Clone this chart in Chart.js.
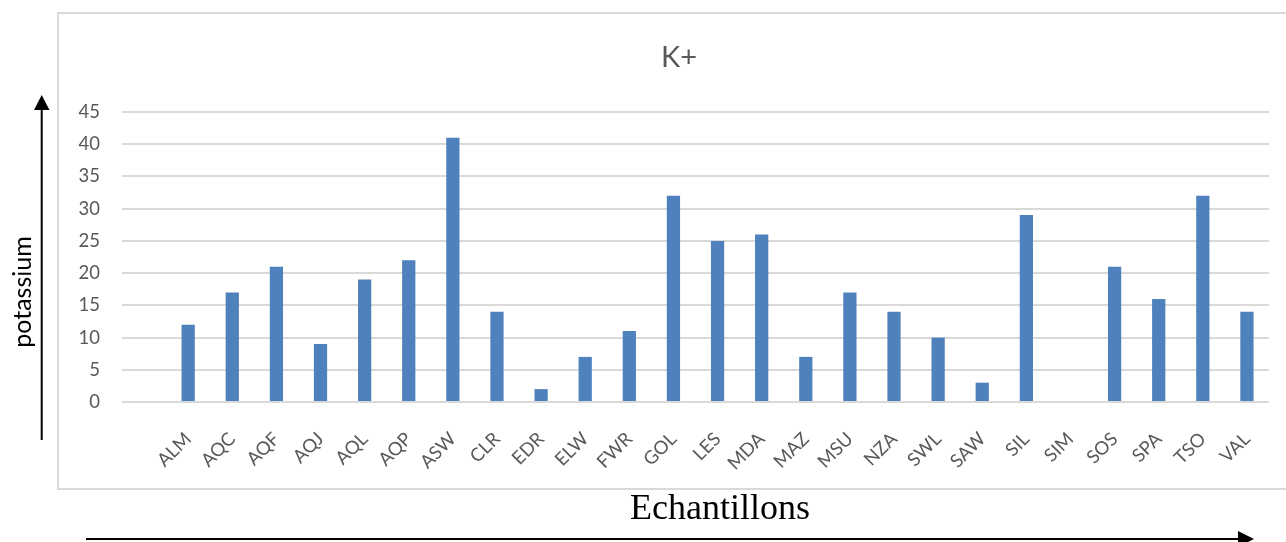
<!DOCTYPE html>
<html>
<head>
<meta charset="utf-8">
<script src="https://cdn.jsdelivr.net/npm/chart.js@4.4.1/dist/chart.umd.min.js"></script>
<style>
  html, body { margin: 0; padding: 0; background: #ffffff; }
  #wrap { position: relative; width: 1286px; height: 542px; }
</style>
</head>
<body>
<div id="wrap"><canvas id="chart" width="1286" height="542"></canvas></div>
<script>
// Sample codes (first slot of the category axis is left blank)
const categories = ['', 'ALM', 'AQC', 'AQF', 'AQJ', 'AQL', 'AQP', 'ASW', 'CLR', 'EDR', 'ELW', 'FWR', 'GOL',
  'LES', 'MDA', 'MAZ', 'MSU', 'NZA', 'SWL', 'SAW', 'SIL', 'SIM', 'SOS', 'SPA', 'TSO', 'VAL'];
// Potassium (K+) per sample
const potassium = [null, 12, 17, 21, 9, 19, 22, 41, 14, 2, 7, 11, 32,
  25, 26, 7, 17, 14, 10, 3, 29, 0, 21, 16, 32, 14];
const yTicks = [0, 5, 10, 15, 20, 25, 30, 35, 40, 45];

const chartTitle = 'K+';
const yTitle = 'potassium';
const xTitle = 'Echantillons';

const textGrey = '#595959';
const gridGrey = '#d9d9d9';
const barBlue = '#4f81bd';
const sans = 'Lato, "Open Sans", "Liberation Sans", sans-serif';

// Frame, title and the two arrowed axis captions around the plot
const decor = {
  id: 'decor',
  beforeDraw(chart) {
    const ctx = chart.ctx;
    ctx.save();
    ctx.fillStyle = '#ffffff';
    ctx.fillRect(0, 0, chart.width, chart.height);
    ctx.strokeStyle = gridGrey;
    ctx.lineWidth = 2;
    ctx.beginPath();
    ctx.moveTo(1290, 13);
    ctx.lineTo(58, 13);
    ctx.lineTo(58, 489);
    ctx.lineTo(1290, 489);
    ctx.stroke();
    ctx.restore();
  },
  afterDraw(chart) {
    const ctx = chart.ctx;
    ctx.save();
    // chart title
    ctx.fillStyle = textGrey;
    ctx.font = '29px ' + sans;
    ctx.textAlign = 'center';
    ctx.textBaseline = 'middle';
    ctx.fillText(chartTitle, 679, 58);

    // vertical arrow + caption
    ctx.strokeStyle = '#000000';
    ctx.fillStyle = '#000000';
    ctx.lineWidth = 2;
    ctx.beginPath();
    ctx.moveTo(41.7, 440);
    ctx.lineTo(41.7, 108);
    ctx.stroke();
    ctx.beginPath();
    ctx.moveTo(41.7, 95);
    ctx.lineTo(49.5, 110);
    ctx.lineTo(34, 110);
    ctx.closePath();
    ctx.fill();

    ctx.save();
    ctx.translate(23, 292);
    ctx.rotate(-Math.PI / 2);
    ctx.fillStyle = '#000000';
    ctx.font = '25px ' + sans;
    ctx.textAlign = 'center';
    ctx.textBaseline = 'middle';
    ctx.fillText(yTitle, 0, 0);
    ctx.restore();

    // horizontal arrow + caption
    ctx.beginPath();
    ctx.moveTo(86, 539);
    ctx.lineTo(1240, 539);
    ctx.stroke();
    ctx.beginPath();
    ctx.moveTo(1254, 539);
    ctx.lineTo(1238, 531);
    ctx.lineTo(1238, 547);
    ctx.closePath();
    ctx.fill();

    ctx.fillStyle = '#000000';
    ctx.font = '36px "Liberation Serif", "Times New Roman", serif';
    ctx.textAlign = 'center';
    ctx.textBaseline = 'alphabetic';
    ctx.fillText(xTitle, 720, 519);
    ctx.restore();
  }
};

new Chart(document.getElementById('chart'), {
  type: 'bar',
  data: {
    labels: categories,
    datasets: [{
      label: chartTitle,
      data: potassium,
      backgroundColor: barBlue,
      borderWidth: 0,
      categoryPercentage: 1,
      barPercentage: 0.3
    }]
  },
  options: {
    responsive: false,
    animation: false,
    devicePixelRatio: 1,
    layout: { padding: { left: 58, right: 17, top: 112, bottom: 53 } },
    plugins: {
      legend: { display: false },
      title: { display: false },
      tooltip: { enabled: false }
    },
    scales: {
      x: {
        grid: { display: false },
        border: { display: false },
        ticks: {
          color: textGrey,
          font: { family: sans, size: 18.5 },
          minRotation: 45,
          maxRotation: 45,
          autoSkip: false,
          padding: 18
        },
        afterFit(scale) { scale.height = 87; }
      },
      y: {
        min: 0,
        max: 45,
        afterBuildTicks(scale) { scale.ticks = yTicks.map(v => ({ value: v })); },
        grid: { color: gridGrey, lineWidth: 2, drawTicks: false },
        border: { display: false },
        ticks: {
          color: textGrey,
          font: { family: sans, size: 18.5 },
          padding: 22
        },
        afterFit(scale) { scale.width = 64; }
      }
    }
  },
  plugins: [decor]
});
</script>
</body>
</html>
